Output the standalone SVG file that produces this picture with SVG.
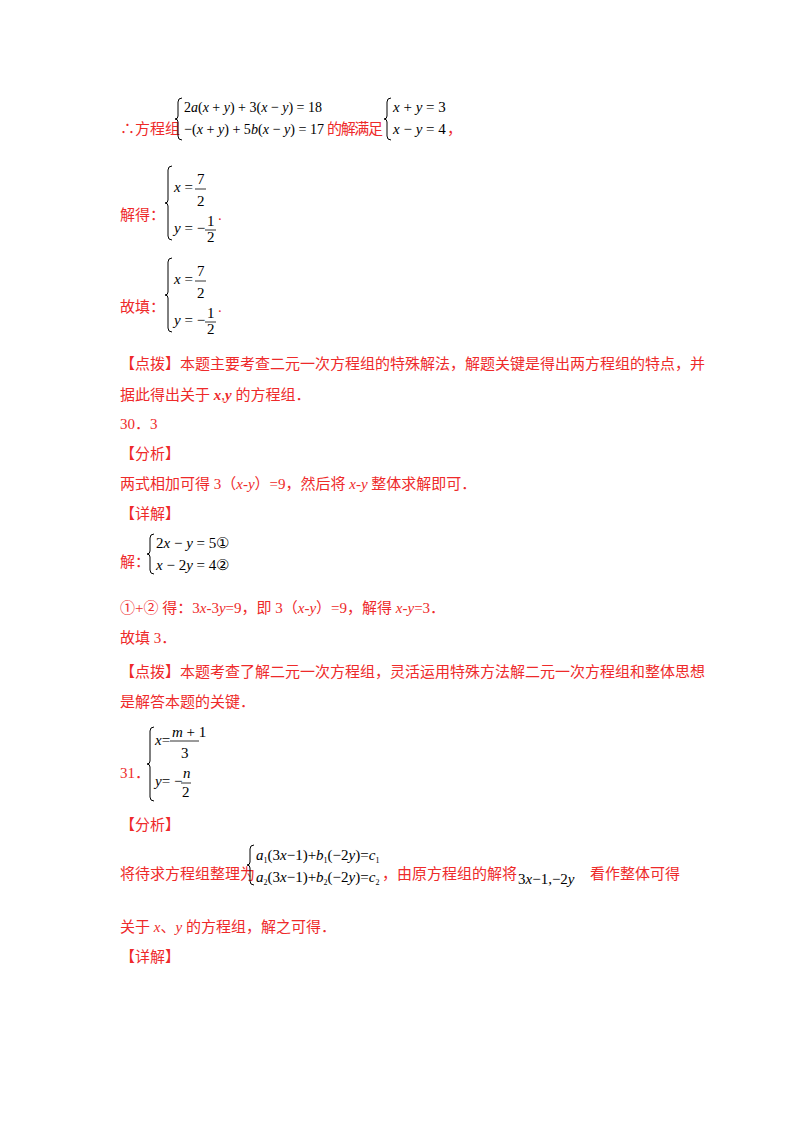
<svg xmlns="http://www.w3.org/2000/svg" width="800" height="1132" viewBox="0 0 800 1132">
<style>
.r{fill:#ee2a2a;font-family:"Liberation Serif","Noto Sans CJK SC",serif;font-size:15px}
.m{fill:#000;font-family:"Liberation Serif",serif;font-size:15px}
.i{font-style:italic}
.b{fill:none;stroke:#000;stroke-width:1}
.f{stroke:#000;stroke-width:0.8}
</style>
<rect width="800" height="1132" fill="#fff"/>
<g id="block1">
<text class="r" x="120" y="134">∴方程组</text>
<path class="b" d="M182,98 q-4,0 -4,4 v14 q0,3 -3,3 q3,0 3,3 v14 q0,4 4,4"/>
<text class="m" x="184" y="112" textLength="138" lengthAdjust="spacingAndGlyphs">2<tspan class="i">a</tspan>(<tspan class="i">x</tspan> + <tspan class="i">y</tspan>) + 3(<tspan class="i">x</tspan> − <tspan class="i">y</tspan>) = 18</text>
<text class="m" x="184" y="134" textLength="140" lengthAdjust="spacingAndGlyphs">−(<tspan class="i">x</tspan> + <tspan class="i">y</tspan>) + 5<tspan class="i">b</tspan>(<tspan class="i">x</tspan> − <tspan class="i">y</tspan>) = 17</text>
<text class="r" x="327" y="134" textLength="56">的解满足</text>
<path class="b" d="M391,98 q-4,0 -4,4 v14 q0,3 -3,3 q3,0 3,3 v14 q0,4 4,4"/>
<text class="m" x="393" y="112"><tspan class="i">x</tspan> + <tspan class="i">y</tspan> = 3</text>
<text class="m" x="393" y="134"><tspan class="i">x</tspan> − <tspan class="i">y</tspan> = 4</text>
<text class="r" x="447" y="134">，</text>
</g>
<g id="block2">
<text class="r" x="120" y="220">解得：</text>
<path class="b" d="M172,166 q-4,0 -4,4 v30 q0,3 -3,3 q3,0 3,3 v30 q0,4 4,4"/>
<text class="m" x="174" y="192"><tspan class="i">x</tspan> =</text>
<text class="m" x="197" y="184">7</text><line class="f" x1="195" y1="189" x2="206" y2="189"/><text class="m" x="197" y="206">2</text>
<text class="m" x="174" y="233"><tspan class="i">y</tspan> = −</text>
<text class="m" x="207" y="226">1</text><line class="f" x1="205" y1="230" x2="216" y2="230"/><text class="m" x="207" y="242">2</text>
<text class="r" x="218" y="220">.</text>
</g>
<g id="block3">
<text class="r" x="120" y="312">故填：</text>
<path class="b" d="M172,258 q-4,0 -4,4 v30 q0,3 -3,3 q3,0 3,3 v30 q0,4 4,4"/>
<text class="m" x="174" y="284"><tspan class="i">x</tspan> =</text>
<text class="m" x="197" y="276">7</text><line class="f" x1="195" y1="281" x2="206" y2="281"/><text class="m" x="197" y="298">2</text>
<text class="m" x="174" y="325"><tspan class="i">y</tspan> = −</text>
<text class="m" x="207" y="318">1</text><line class="f" x1="205" y1="322" x2="216" y2="322"/><text class="m" x="207" y="334">2</text>
<text class="r" x="218" y="312">.</text>
</g>
<g id="block4">
<text class="r" x="120" y="369">【点拨】本题主要考查二元一次方程组的特殊解法，解题关键是得出两方程组的特点，并</text>
<text class="r" x="120" y="400">据此得出关于 <tspan class="i" font-weight="bold">x</tspan>,<tspan class="i" font-weight="bold">y</tspan> 的方程组．</text>
<text class="r" x="120" y="429">30．3</text>
<text class="r" x="120" y="459">【分析】</text>
<text class="r" x="120" y="489">两式相加可得 3（<tspan class="i">x-y</tspan>）=9，然后将 <tspan class="i">x-y</tspan> 整体求解即可．</text>
<text class="r" x="120" y="519">【详解】</text>
</g>
<g id="block5">
<text class="r" x="120" y="567">解：</text>
<path class="b" d="M154,534 q-4,0 -4,4 v13 q0,3 -3,3 q3,0 3,3 v13 q0,4 4,4"/>
<text class="m" x="156" y="548">2<tspan class="i">x</tspan> − <tspan class="i">y</tspan> = 5①</text>
<text class="m" x="156" y="570"><tspan class="i">x</tspan> − 2<tspan class="i">y</tspan> = 4②</text>
<text class="r" x="120" y="613">①+② 得：3<tspan class="i">x</tspan>-3<tspan class="i">y</tspan>=9，即 3（<tspan class="i">x-y</tspan>）=9，解得 <tspan class="i">x-y</tspan>=3．</text>
<text class="r" x="120" y="643">故填 3．</text>
<text class="r" x="120" y="677">【点拨】本题考查了解二元一次方程组，灵活运用特殊方法解二元一次方程组和整体思想</text>
<text class="r" x="120" y="707">是解答本题的关键．</text>
</g>
<g id="block6">
<text class="r" x="120" y="778">31．</text>
<path class="b" d="M154,727 q-4,0 -4,4 v30 q0,3 -3,3 q3,0 3,3 v30 q0,4 4,4"/>
<text class="m" x="155" y="745"><tspan class="i">x</tspan>=</text>
<text class="m" x="172" y="737"><tspan class="i">m</tspan> + 1</text><line class="f" x1="170" y1="741" x2="199" y2="741"/><text class="m" x="181" y="758">3</text>
<text class="m" x="155" y="786"><tspan class="i">y</tspan>= −</text>
<text class="m" x="183" y="778"><tspan class="i">n</tspan></text><line class="f" x1="181" y1="783" x2="191" y2="783"/><text class="m" x="182" y="797">2</text>
<text class="r" x="120" y="830">【分析】</text>
</g>
<g id="block7">
<text class="r" x="120" y="879">将待求方程组整理为</text>
<path class="b" d="M254,845 q-4,0 -4,4 v13 q0,3 -3,3 q3,0 3,3 v13 q0,4 4,4"/>
<text class="m" x="256" y="860" font-size="14"><tspan class="i">a</tspan><tspan font-size="8" dy="3">1</tspan><tspan dy="-3">(3<tspan class="i">x</tspan>−1)+</tspan><tspan class="i">b</tspan><tspan font-size="8" dy="3">1</tspan><tspan dy="-3">(−2<tspan class="i">y</tspan>)=</tspan><tspan class="i">c</tspan><tspan font-size="8" dy="3">1</tspan></text>
<text class="m" x="256" y="882" font-size="14"><tspan class="i">a</tspan><tspan font-size="8" dy="3">2</tspan><tspan dy="-3">(3<tspan class="i">x</tspan>−1)+</tspan><tspan class="i">b</tspan><tspan font-size="8" dy="3">2</tspan><tspan dy="-3">(−2<tspan class="i">y</tspan>)=</tspan><tspan class="i">c</tspan><tspan font-size="8" dy="3">2</tspan></text>
<text class="r" x="382" y="879">，由原方程组的解将</text>
<text class="m" x="518" y="884" font-size="16">3<tspan class="i">x</tspan>−1,−2<tspan class="i">y</tspan></text>
<text class="r" x="590" y="879">看作整体可得</text>
<text class="r" x="120" y="932">关于 <tspan class="i">x</tspan>、<tspan class="i">y</tspan> 的方程组，解之可得．</text>
<text class="r" x="120" y="962">【详解】</text>
</g>
</svg>
